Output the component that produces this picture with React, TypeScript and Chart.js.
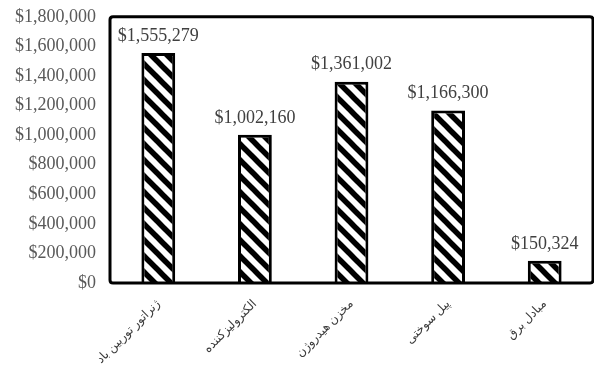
import React, { useEffect, useRef } from "react";
import { Chart, registerables } from "chart.js";

Chart.register(...registerables);

const categories = [
  "ژنراتور توربین باد",
  "الکترولیزکننده",
  "مخزن هیدروژن",
  "پیل سوختی",
  "مبادل برق",
];
const costs = [1555279, 1002160, 1361002, 1166300, 150324];
const yMax = 1800000;
const yStep = 200000;

const fmt = (v: number) => "$" + Math.round(v).toLocaleString("en-US");

function makePattern(): CanvasPattern | string {
  const c = document.createElement("canvas");
  const s = 16;
  c.width = s;
  c.height = s;
  const g = c.getContext("2d");
  if (!g) return "#fff";
  g.fillStyle = "#fff";
  g.fillRect(0, 0, s, s);
  g.strokeStyle = "#000";
  g.lineWidth = 5.5;
  for (const k of [-s, 0, s]) {
    g.beginPath();
    g.moveTo(k - 2, -2);
    g.lineTo(k + s + 2, s + 2);
    g.stroke();
  }
  const p = g.createPattern(c, "repeat");
  return p || "#fff";
}

const frame = {
  id: "frame",
  afterDraw(chart: any) {
    const { ctx, chartArea } = chart;
    const { left, top, right, bottom } = chartArea;
    ctx.save();
    ctx.strokeStyle = "#000";
    ctx.lineWidth = 3;
    ctx.beginPath();
    const r = 3;
    ctx.moveTo(left + r, top);
    ctx.lineTo(right - r, top);
    ctx.quadraticCurveTo(right, top, right, top + r);
    ctx.lineTo(right, bottom - r);
    ctx.quadraticCurveTo(right, bottom, right - r, bottom);
    ctx.lineTo(left + r, bottom);
    ctx.quadraticCurveTo(left, bottom, left, bottom - r);
    ctx.lineTo(left, top + r);
    ctx.quadraticCurveTo(left, top, left + r, top);
    ctx.closePath();
    ctx.stroke();
    ctx.restore();
  },
};

const valueLabels = {
  id: "valueLabels",
  afterDatasetsDraw(chart: any) {
    const { ctx } = chart;
    const meta = chart.getDatasetMeta(0);
    const data = chart.data.datasets[0].data as number[];
    ctx.save();
    ctx.font = "18px 'Liberation Serif', 'Times New Roman', serif";
    ctx.fillStyle = "#404040";
    ctx.textAlign = "center";
    ctx.textBaseline = "middle";
    meta.data.forEach((el: any, i: number) => {
      ctx.fillText(fmt(data[i]), el.x, el.y - 17);
    });
    ctx.restore();
  },
};

export default function App() {
  const ref = useRef<HTMLCanvasElement | null>(null);
  useEffect(() => {
    if (!ref.current) return;
    const chart = new Chart(ref.current, {
      type: "bar",
      data: {
        labels: categories,
        datasets: [
          {
            data: costs,
            backgroundColor: makePattern() as any,
            borderColor: "#000",
            borderWidth: 3,
            barPercentage: 0.35,
            categoryPercentage: 1,
          },
        ],
      },
      options: {
        animation: false,
        responsive: true,
        maintainAspectRatio: false,
        layout: { padding: { top: -7, right: 1, left: 0, bottom: 0 } },
        plugins: {
          legend: { display: false },
          tooltip: { enabled: false },
        },
        scales: {
          x: {
            grid: { display: false },
            border: { display: false },
            afterFit: (s: any) => {
              s.height = 82;
            },
            ticks: {
              color: "#3a3a3a",
              maxRotation: 45,
              minRotation: 45,
              padding: 6,
              font: { family: "'Liberation Serif', 'DejaVu Sans', serif", size: 12 },
            },
          },
          y: {
            min: 0,
            max: yMax,
            grid: { display: false },
            border: { display: false },
            afterFit: (s: any) => {
              s.width = 110;
            },
            ticks: {
              stepSize: yStep,
              color: "#595959",
              padding: 6,
              font: { family: "'Liberation Serif', 'Times New Roman', serif", size: 18 },
              callback: (v: any) => fmt(Number(v)),
            },
          },
        },
      },
      plugins: [valueLabels, frame],
    });
    return () => chart.destroy();
  }, []);
  return (
    <div style={{ position: "fixed", left: 0, top: 0, width: 594, height: 365, background: "#fff" }}>
      <canvas ref={ref} />
    </div>
  );
}
